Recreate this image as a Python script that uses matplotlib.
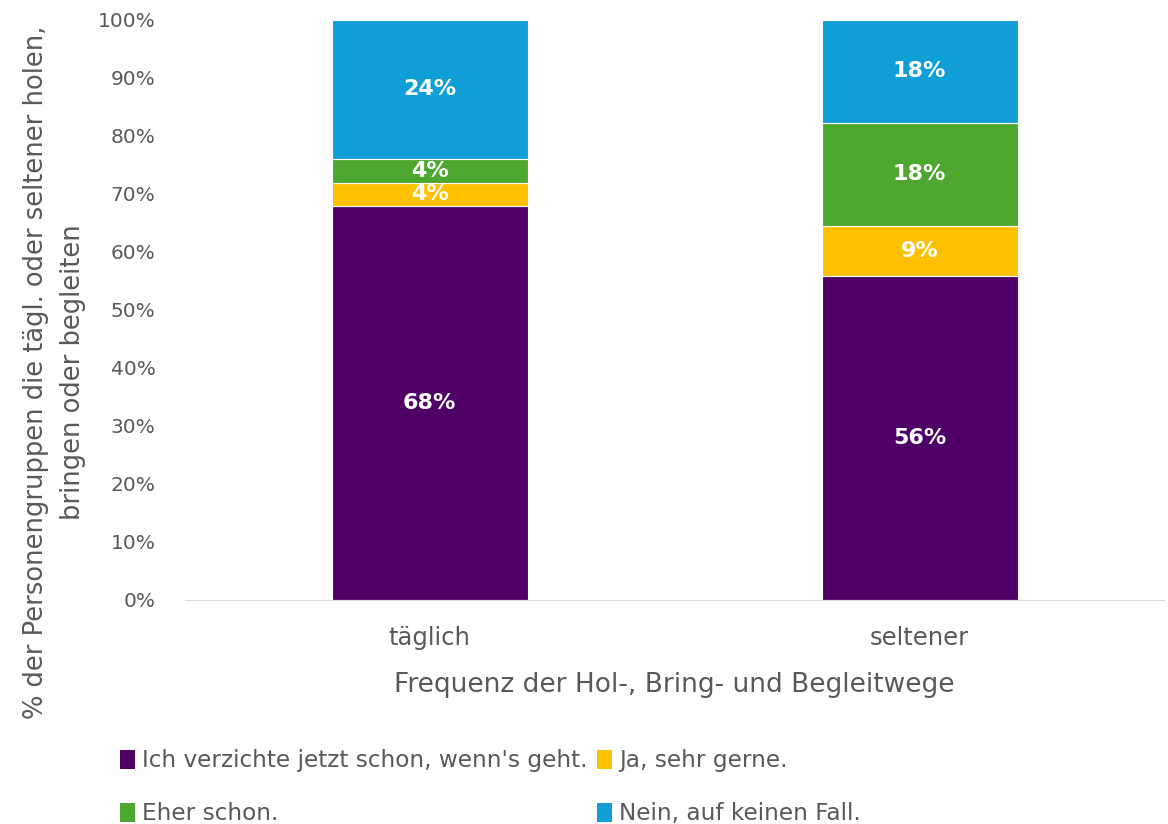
import numpy as np
import matplotlib.pyplot as plt
from matplotlib.patches import Patch

plt.rcParams['font.family'] = ['DejaVu Sans']

# data
categories = ['täglich', 'seltener']
series_names = ["Ich verzichte jetzt schon, wenn's geht.", 'Ja, sehr gerne.',
                'Eher schon.', 'Nein, auf keinen Fall.']
verzichte = [67.9, 55.9]
sehr_gerne = [4.0, 8.6]
eher_schon = [4.1, 17.7]
nein = [24.0, 17.8]
labels = [['68%', '56%'], ['4%', '9%'], ['4%', '18%'], ['24%', '18%']]

colors = ['#4E0066', '#FFC000', '#4EA72E', '#0F9ED5']
grey = '#595959'

fig = plt.figure(figsize=(11.68, 8.24), dpi=100)
ax = fig.add_axes([0.158, 0.272, 0.839, 0.704])

x = np.arange(len(categories))
bottom = np.zeros(len(categories))
for vals, col, lab in zip([verzichte, sehr_gerne, eher_schon, nein], colors, labels):
    vals = np.array(vals)
    ax.bar(x, vals, 0.4, bottom=bottom, color=col, edgecolor='white', linewidth=0.8)
    for xi, b, v, t in zip(x, bottom, vals, lab):
        ax.text(xi, b + v / 2, t, ha='center', va='center', color='white',
                fontsize=16, fontweight='bold')
    bottom += vals

ax.set_xlim(-0.5, 1.5)
ax.set_ylim(0, 100)
ax.set_yticks(np.arange(0, 101, 10))
ax.set_yticklabels([f'{v}%' for v in range(0, 101, 10)], fontsize=14.5, color=grey)
ax.set_xticks(x)
ax.set_xticklabels(categories, fontsize=17.5, color=grey)
ax.tick_params(axis='y', length=0, pad=21)
ax.tick_params(axis='x', length=0, pad=19)
for s in ['top', 'right', 'left']:
    ax.spines[s].set_visible(False)
ax.spines['bottom'].set_color('#D9D9D9')

ax.set_xlabel('Frequenz der Hol-, Bring- und Begleitwege', fontsize=19, color=grey, labelpad=16)
ax.set_ylabel('% der Personengruppen die tägl. oder seltener holen,\nbringen oder begleiten',
              fontsize=18.5, color=grey, linespacing=1.55)
ax.yaxis.set_label_coords(-0.101, 0.393)

order = [0, 2, 1, 3]
handles = [Patch(facecolor=colors[i]) for i in order]
fig.legend(handles, [series_names[i] for i in order], ncol=2, loc='upper left',
           bbox_to_anchor=(0.085, 0.116), frameon=False, fontsize=16.7, labelcolor=grey,
           handlelength=0.65, handleheight=0.85, handletextpad=0.3, columnspacing=0.4,
           labelspacing=1.3)

fig.savefig('out.png', dpi=100)
